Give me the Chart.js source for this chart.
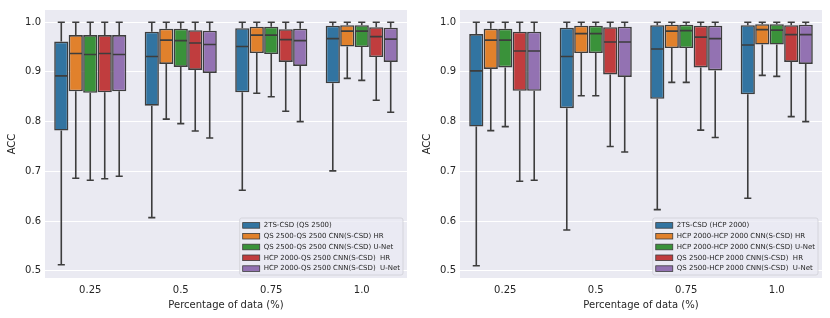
<!DOCTYPE html>
<html>
<head>
<meta charset="utf-8">
<script src="https://cdn.jsdelivr.net/npm/chart.js@4.4.0/dist/chart.umd.min.js"></script>
<style>
  html, body { margin: 0; padding: 0; background: #ffffff; }
  .wrap { display: flex; width: 830px; height: 318px; }
  canvas { display: block; }
</style>
</head>
<body>
<div class="wrap">
  <canvas id="left" width="415" height="318"></canvas>
  <canvas id="right" width="415" height="318"></canvas>
</div>
<script>
// categories and ticks
const categories = ['0.25', '0.5', '0.75', '1.0'];
const yTicks = [0.5, 0.6, 0.7, 0.8, 0.9, 1.0];

// each box: [low whisker, q1, median, q3, high whisker], one per category
// left panel (QS 2500 test)
const leftNames = [
  '2TS-CSD (QS 2500)',
  'QS 2500-QS 2500 CNN(S-CSD) HR',
  'QS 2500-QS 2500 CNN(S-CSD) U-Net',
  'HCP 2000-QS 2500 CNN(S-CSD)  HR',
  'HCP 2000-QS 2500 CNN(S-CSD)  U-Net'
];
const qsBaseline = [[0.512, 0.782, 0.892, 0.961, 1.0], [0.607, 0.832, 0.931, 0.981, 1.0], [0.662, 0.859, 0.951, 0.988, 1.0], [0.701, 0.877, 0.967, 0.993, 1.0]];
const qsQsHr     = [[0.686, 0.861, 0.937, 0.974, 1.0], [0.805, 0.916, 0.964, 0.987, 1.0], [0.857, 0.938, 0.974, 0.991, 1.0], [0.887, 0.951, 0.982, 0.994, 1.0]];
const qsQsUnet   = [[0.682, 0.858, 0.935, 0.974, 1.0], [0.796, 0.910, 0.963, 0.987, 1.0], [0.850, 0.936, 0.974, 0.991, 1.0], [0.883, 0.950, 0.982, 0.994, 1.0]];
const hcpQsHr    = [[0.685, 0.859, 0.937, 0.974, 1.0], [0.781, 0.904, 0.958, 0.984, 1.0], [0.821, 0.920, 0.965, 0.986, 1.0], [0.843, 0.930, 0.971, 0.990, 1.0]];
const hcpQsUnet  = [[0.690, 0.861, 0.935, 0.974, 1.0], [0.767, 0.898, 0.955, 0.983, 1.0], [0.800, 0.912, 0.963, 0.987, 1.0], [0.819, 0.920, 0.966, 0.989, 1.0]];

// right panel (HCP 2000 test)
const rightNames = [
  '2TS-CSD (HCP 2000)',
  'HCP 2000-HCP 2000 CNN(S-CSD) HR',
  'HCP 2000-HCP 2000 CNN(S-CSD) U-Net',
  'QS 2500-HCP 2000 CNN(S-CSD)  HR',
  'QS 2500-HCP 2000 CNN(S-CSD)  U-Net'
];
const hcpBaseline = [[0.510, 0.790, 0.902, 0.976, 1.0], [0.582, 0.827, 0.931, 0.989, 1.0], [0.623, 0.846, 0.946, 0.994, 1.0], [0.646, 0.855, 0.954, 0.994, 1.0]];
const hcpHcpHr    = [[0.782, 0.906, 0.964, 0.987, 1.0], [0.852, 0.938, 0.977, 0.993, 1.0], [0.879, 0.948, 0.982, 0.995, 1.0], [0.893, 0.955, 0.985, 0.996, 1.0]];
const hcpHcpUnet  = [[0.790, 0.909, 0.964, 0.987, 1.0], [0.852, 0.938, 0.977, 0.993, 1.0], [0.879, 0.948, 0.983, 0.995, 1.0], [0.891, 0.955, 0.984, 0.996, 1.0]];
const qsHcpHr     = [[0.680, 0.862, 0.942, 0.981, 1.0], [0.750, 0.895, 0.960, 0.990, 1.0], [0.783, 0.909, 0.970, 0.993, 1.0], [0.810, 0.920, 0.975, 0.994, 1.0]];
const qsHcpUnet   = [[0.682, 0.862, 0.942, 0.981, 1.0], [0.739, 0.890, 0.960, 0.991, 1.0], [0.768, 0.903, 0.967, 0.993, 1.0], [0.800, 0.916, 0.975, 0.995, 1.0]];

const palette = ['#3274a1', '#e1812c', '#3a923a', '#c03d3e', '#9372b2'];
const lineColor = '#3d3d3d';
const textColor = '#262626';
const font = { family: 'DejaVu Sans', size: 10 };

// grey plot background
const bgPlugin = {
  id: 'bg',
  beforeDraw(chart) {
    const { ctx, chartArea: a } = chart;
    ctx.save();
    ctx.fillStyle = '#eaeaf2';
    ctx.fillRect(a.left, a.top, a.right - a.left, a.bottom - a.top);
    ctx.restore();
  }
};

// whiskers, caps and median lines on top of the floating bars
const whiskerPlugin = {
  id: 'whiskers',
  afterDatasetsDraw(chart) {
    const { ctx } = chart;
    const y = chart.scales.y;
    ctx.save();
    ctx.strokeStyle = lineColor;
    ctx.lineWidth = 1.6;
    chart.data.datasets.forEach((ds, i) => {
      chart.getDatasetMeta(i).data.forEach((bar, j) => {
        const [lo, q1, med, q3, hi] = ds.stats[j];
        const half = bar.width / 2;
        const cap = bar.width / 4;
        ctx.beginPath();
        ctx.moveTo(bar.x, y.getPixelForValue(q3));
        ctx.lineTo(bar.x, y.getPixelForValue(hi));
        ctx.moveTo(bar.x - cap, y.getPixelForValue(hi));
        ctx.lineTo(bar.x + cap, y.getPixelForValue(hi));
        ctx.moveTo(bar.x, y.getPixelForValue(q1));
        ctx.lineTo(bar.x, y.getPixelForValue(lo));
        ctx.moveTo(bar.x - cap, y.getPixelForValue(lo));
        ctx.lineTo(bar.x + cap, y.getPixelForValue(lo));
        ctx.moveTo(bar.x - half + 0.8, y.getPixelForValue(med));
        ctx.lineTo(bar.x + half - 0.8, y.getPixelForValue(med));
        ctx.stroke();
      });
    });
    ctx.restore();
  }
};

// legend in the lower right corner of the plot
const boxLegend = {
  id: 'boxLegend',
  afterDraw(chart) {
    const { ctx, chartArea: a } = chart;
    const items = chart.data.datasets;
    ctx.save();
    ctx.font = '7px "DejaVu Sans"';
    const maxW = Math.max(...items.map(d => ctx.measureText(d.label).width));
    const rowH = 10.8;
    const w = 3 + 17 + 4 + maxW + 3;
    const h = rowH * items.length + 3;
    const x0 = a.right - 4 - w;
    const y0 = a.bottom - 3 - h;
    ctx.fillStyle = 'rgba(234,234,242,0.8)';
    ctx.strokeStyle = '#cfcfd6';
    ctx.lineWidth = 0.8;
    ctx.beginPath();
    ctx.roundRect(x0, y0, w, h, 2);
    ctx.fill();
    ctx.stroke();
    items.forEach((d, i) => {
      const cy = y0 + 2 + rowH * (i + 0.5);
      ctx.fillStyle = d.backgroundColor;
      ctx.fillRect(x0 + 3, cy - 2.8, 17, 5.6);
      ctx.strokeStyle = lineColor;
      ctx.lineWidth = 0.8;
      ctx.strokeRect(x0 + 3, cy - 2.8, 17, 5.6);
      ctx.fillStyle = textColor;
      ctx.textBaseline = 'middle';
      ctx.fillText(d.label, x0 + 24, cy);
    });
    ctx.restore();
  }
};

function makeChart(id, names, series) {
  return new Chart(document.getElementById(id), {
    type: 'bar',
    data: {
      labels: categories,
      datasets: series.map((s, i) => ({
        label: names[i],
        data: s.map(b => [b[1], b[3]]),
        stats: s,
        backgroundColor: palette[i],
        borderColor: lineColor,
        borderWidth: 1.6,
        borderSkipped: false
      }))
    },
    options: {
      responsive: false,
      animation: false,
      layout: { padding: { top: 8, right: 8, left: 0, bottom: 0 } },
      datasets: { bar: { categoryPercentage: 0.8, barPercentage: 0.98 } },
      plugins: { legend: { display: false }, tooltip: { enabled: false } },
      scales: {
        x: {
          grid: { display: false, drawTicks: false },
          border: { display: false },
          ticks: { color: textColor, font, padding: 6 },
          title: { display: true, text: 'Percentage of data (%)', color: textColor, font, padding: { top: 0, bottom: 7 } },
          afterFit: s => { s.height = 40; }
        },
        y: {
          min: 0.4855,
          max: 1.0245,
          afterBuildTicks: s => { s.ticks = yTicks.map(v => ({ value: v })); },
          grid: { color: '#ffffff', lineWidth: 1, drawTicks: false },
          border: { display: false },
          ticks: { color: textColor, font, padding: 4, callback: v => v.toFixed(1) },
          title: { display: true, text: 'ACC', color: textColor, font, padding: { top: 6, bottom: 0 } },
          afterFit: s => { s.width = 45; }
        }
      }
    },
    plugins: [bgPlugin, whiskerPlugin, boxLegend]
  });
}

makeChart('left', leftNames, [qsBaseline, qsQsHr, qsQsUnet, hcpQsHr, hcpQsUnet]);
makeChart('right', rightNames, [hcpBaseline, hcpHcpHr, hcpHcpUnet, qsHcpHr, qsHcpUnet]);
</script>
</body>
</html>
